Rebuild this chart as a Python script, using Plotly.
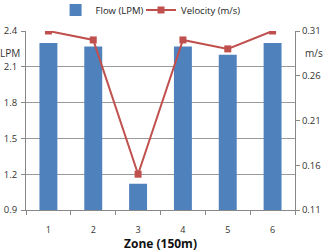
import plotly.graph_objects as go

zones = ["1", "2", "3", "4", "5", "6"]
flow_lpm = [2.30, 2.27, 1.12, 2.27, 2.20, 2.30]
velocity_ms = [0.31, 0.30, 0.15, 0.30, 0.29, 0.31]
left_ticks = [0.9, 1.2, 1.5, 1.8, 2.1, 2.4]
right_ticks = [0.11, 0.16, 0.21, 0.26, 0.31]

FONT = "Open Sans"
fig = go.Figure()
fig.add_trace(go.Bar(x=zones, y=flow_lpm, name="Flow (LPM)", legend="legend",
                     marker=dict(color="#4F81BD", line=dict(width=0)), yaxis="y"))
fig.add_trace(go.Scatter(x=zones, y=velocity_ms, name="Velocity (m/s)", mode="lines+markers",
                         legend="legend2",
                         line=dict(color="#C0504D", width=2),
                         marker=dict(symbol="square", size=7, color="#C0504D"), yaxis="y2"))

leg_common = dict(orientation="h", xanchor="left", yanchor="middle", y=1.117,
                  font=dict(family=FONT, size=9.5, color="#222"),
                  itemwidth=30, bgcolor="rgba(0,0,0,0)")

fig.update_layout(
    width=325, height=251,
    margin=dict(l=26, r=30, t=31, b=41, autoexpand=False),
    paper_bgcolor="white", plot_bgcolor="white",
    bargap=0.6,
    showlegend=True,
    legend=dict(x=0.11, **leg_common),
    legend2=dict(x=0.4275, **leg_common),
    xaxis=dict(type="category", tickson="boundaries", ticks="outside", ticklen=4,
               tickcolor="#888", showline=True, linecolor="#888", linewidth=1,
               showgrid=False, tickfont=dict(family=FONT, size=9, color="#333"),
               ticklabelstandoff=11),
    yaxis=dict(range=[0.9, 2.4], tickvals=left_ticks, ticktext=[f"{v:.1f}" for v in left_ticks],
               showgrid=True, gridcolor="#999", gridwidth=1, showline=True, linecolor="#888",
               ticks="outside", ticklen=4, tickcolor="#888", zeroline=False,
               ticklabelstandoff=2,
               tickfont=dict(family=FONT, size=9.5, color="#333")),
    yaxis2=dict(range=[0.11, 0.31], tickvals=right_ticks, ticktext=[f"{v:.2f}" for v in right_ticks],
                overlaying="y", side="right", showgrid=False, showline=True, linecolor="#888",
                ticks="outside", ticklen=4, tickcolor="#888", zeroline=False,
                tickfont=dict(family=FONT, size=9.5, color="#333")),
    annotations=[
        dict(text="LPM", xref="paper", yref="paper", x=0, y=0.93, xanchor="right", xshift=-4,
             showarrow=False, font=dict(family=FONT, size=10, color="#333")),
        dict(text="m/s", xref="paper", yref="paper", x=1, y=0.93, xanchor="left", xshift=8,
             showarrow=False, font=dict(family=FONT, size=10, color="#333")),
        dict(text="<b>Zone (150m)</b>", xref="paper", yref="paper", x=0.5, y=-0.185,
             xanchor="center", yanchor="middle", showarrow=False,
             font=dict(family=FONT, size=12, color="#111")),
    ],
)
fig.write_html("out.html")
